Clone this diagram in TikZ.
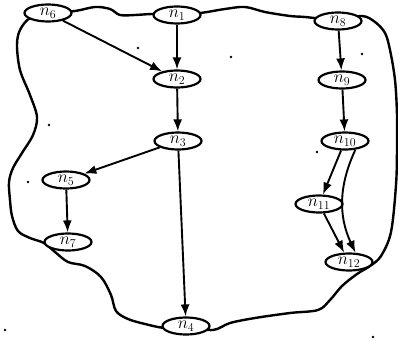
\documentclass[tikz,border=0pt]{standalone}
\usetikzlibrary{shapes.geometric,arrows.meta}
\begin{document}
\begin{tikzpicture}[x=1pt,y=-1pt,
  nd/.style={ellipse,draw,line width=2.2pt,fill=white,minimum width=47pt,minimum height=17pt,inner sep=0pt,font=\LARGE},
  ar/.style={line width=1.9pt,-{Latex[length=12pt,width=9pt]}},
  bd/.style={line width=2.4pt,line join=round},
  speck/.style={circle,fill,inner sep=0pt,minimum size=2.6pt}]
\useasboundingbox (0,0) rectangle (398,342);
% outline
\draw[bd] plot[smooth cycle,tension=0.55] coordinates {
  (48,13) (75,11) (95,7) (110,9) (120,15) (135,15) (152,14) (177,14)
  (200,13) (225,9) (245,7) (265,12) (290,16) (305,17) (338,20)
  (362,16) (375,22) (385,33) (390,50) (395,80) (397,115) (397,150) (396,185) (391,232) (381,256) (370,266)
  (357,274) (342,286) (330,300) (318,310) (290,313) (255,318) (230,323) (213,330) (188,327)
  (165,328) (145,324) (128,319) (116,311) (111,295) (101,277) (85,266) (68,262) (55,252) (44,243)
  (30,238) (18,231) (12,216) (10,200) (9,182) (13,168) (22,153) (33,135) (37,117) (30,95) (20,70) (17,45) (20,30) (30,18)};
% nodes
\node[nd] (n6) at (48,13) {$n_6$};
\node[nd] (n1) at (177,15) {$n_1$};
\node[nd] (n8) at (338,21) {$n_8$};
\node[nd] (n2) at (177,79) {$n_2$};
\node[nd] (n9) at (342,80) {$n_9$};
\node[nd] (n3) at (178,141) {$n_3$};
\node[nd] (n10) at (345,141) {$n_{10}$};
\node[nd] (n5) at (66,180) {$n_5$};
\node[nd] (n7) at (68,242) {$n_7$};
\node[nd] (n11) at (319,204) {$n_{11}$};
\node[nd] (n12) at (349,262) {$n_{12}$};
\node[nd] (n4) at (186,326) {$n_4$};
% edges
\draw[ar] (n6) -- (n2);
\draw[ar] (n1) -- (n2);
\draw[ar] (n2) -- (n3);
\draw[ar] (n3) -- (n5);
\draw[ar] (n3) -- (n4);
\draw[ar] (n5) -- (n7);
\draw[ar] (n8) -- (n9);
\draw[ar] (n9) -- (n10);
\draw[ar] (n10) -- (n11);
\draw[ar] (n10.-40) to[bend right=25] (n12.55);
\draw[ar] (n11) -- (n12);
% specks
\node[speck] (s1) at (138,48) {};
\node[speck] (s2) at (231,57) {};
\node[speck] (s3) at (362,54) {};
\node[speck] (s4) at (49,125) {};
\node[speck] (s5) at (28,182) {};
\node[speck] (s6) at (317,152) {};
\node[speck] (s7) at (5,330) {};
\node[speck] (s8) at (373,337) {};
\end{tikzpicture}
\end{document}
